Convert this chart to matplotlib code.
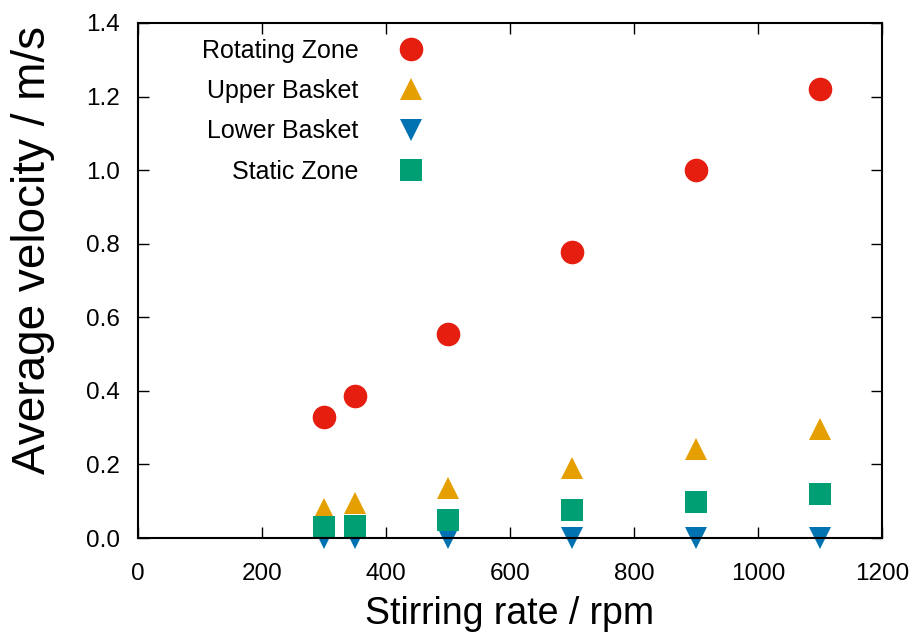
import matplotlib
matplotlib.use("Agg")
import matplotlib.pyplot as plt

# data
rpm = [300, 350, 500, 700, 900, 1100]
rotating_zone = [0.33, 0.387, 0.555, 0.777, 0.999, 1.22]
upper_basket = [0.08, 0.095, 0.135, 0.19, 0.243, 0.295]
lower_basket = [0.0, 0.0, 0.0, 0.0, 0.0, 0.0]
static_zone = [0.03, 0.033, 0.05, 0.075, 0.098, 0.12]

plt.rcParams['font.family'] = ['Liberation Sans', 'DejaVu Sans']

fig = plt.figure(figsize=(9.17, 6.38), dpi=100)
ax = fig.add_axes([0.1505, 0.1567, 0.8113, 0.8073])

ax.plot(rpm, rotating_zone, 'o', color='#e51e10', ms=17, mew=0, label='Rotating Zone', clip_on=False)
ax.plot(rpm, upper_basket, '^', color='#e69f00', ms=16, mew=0, label='Upper Basket', clip_on=False)
ax.plot(rpm, lower_basket, 'v', color='#0072b2', ms=16, mew=0, label='Lower Basket', clip_on=False)
ax.plot(rpm, static_zone, 's', color='#009e73', ms=16, mew=0, label='Static Zone', clip_on=False)

ax.set_xlim(0, 1200)
ax.set_ylim(0, 1.4)
ax.set_xticks(range(0, 1201, 200))
ax.set_yticks([i * 0.2 for i in range(8)])
ax.yaxis.set_major_formatter(matplotlib.ticker.FormatStrFormatter('%.1f'))
ax.tick_params(direction='in', length=8, width=1, labelsize=17.5, top=True, right=True)
ax.tick_params(axis='x', pad=18)
ax.tick_params(axis='y', pad=13)
for s in ax.spines.values():
    s.set_linewidth(1.5)

ax.set_xlabel('Stirring rate / rpm', fontsize=27, labelpad=8)
ax.set_ylabel('Average velocity / m/s', fontsize=33)
ax.yaxis.set_label_coords(-0.112, 0.559)

ax.legend(loc='upper left', bbox_to_anchor=(0.086, 0.969), frameon=False, markerfirst=False,
          fontsize=18, handlelength=1.0, labelspacing=0.65, handletextpad=1.6,
          borderpad=0, borderaxespad=0)

fig.savefig('out.png', dpi=100)
